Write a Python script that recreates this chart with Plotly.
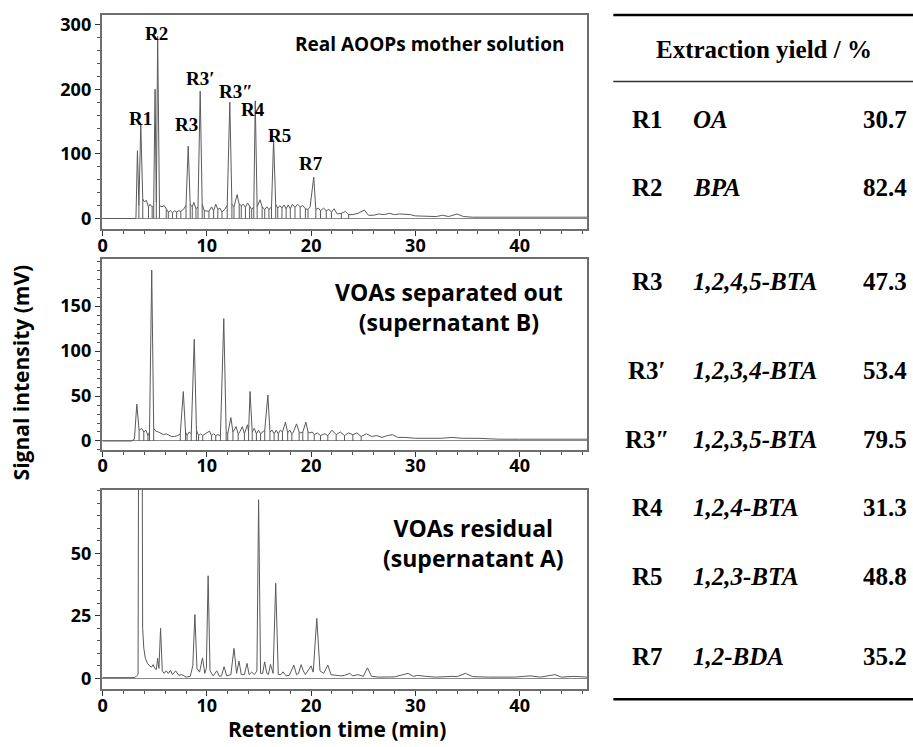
import numpy as np
import plotly.graph_objects as go

W, H = 913, 747

# ---- Chromatogram traces: (retention time in min, signal in mV) vertices ----
t_mother = [0, 3.15, 3.2, 3.34, 3.48, 3.66, 3.85, 4.0, 4.2, 4.4, 4.55, 4.75, 4.9, 5.03, 5.15, 5.28,
            5.45, 5.7, 5.9, 6.1, 6.3, 6.5, 6.7, 6.9, 7.1, 7.3, 7.5, 7.75, 8.0, 8.21, 8.4, 8.6, 8.75,
            8.95, 9.15, 9.36, 9.55, 9.75, 9.95, 10.2, 10.45, 10.65, 10.85, 11.05, 11.25, 11.45, 11.7,
            11.95, 12.2, 12.4, 12.6, 12.9, 13.1, 13.3, 13.5, 13.7, 13.9, 14.1, 14.3, 14.5, 14.64,
            14.82, 15.1, 15.3, 15.55, 15.75, 15.95, 16.2, 16.4, 16.6, 16.8, 17.0, 17.2, 17.4, 17.6,
            17.8, 18.0, 18.2, 18.45, 18.7, 18.95, 19.2, 19.45, 19.7, 19.9, 20.25, 20.45, 20.7, 20.9,
            21.2, 21.45, 21.7, 21.95, 22.2, 22.5, 22.9, 23.3, 23.6, 24.0, 24.5, 25.1, 25.5, 26.0,
            26.5, 27.0, 27.5, 28.0, 28.5, 29.0, 29.5, 30.0, 31.0, 32.0, 32.6, 33.2, 34.0, 34.6,
            35.5, 37.0, 39.0, 40.3, 41.0, 42.5, 44.1, 44.8, 46.5]
s_mother = [0, 0, 2, 105, 20, 145, 30, 26, 28, 18, 22, 18, 20, 200, 25, 282,
            20, 18, 20, 14, 10, 12, 9, 12, 10, 12, 11, 14, 20, 112, 22, 18, 25,
            15, 18, 197, 22, 12, 12, 11, 18, 12, 22, 14, 16, 10, 14,
            20, 180, 22, 18, 37, 22, 20, 22, 17, 24, 18, 14, 18, 182,
            18, 29, 18, 14, 18, 14, 18, 122, 22, 16, 20, 16, 21, 15,
            21, 15, 22, 17, 22, 18, 20, 15, 14, 18, 64, 14, 16, 12,
            16, 12, 14, 10, 15, 7, 8, 11, 6, 6, 8, 13, 5, 5,
            7, 6, 8, 6, 7, 7, 6, 4, 3, 3, 5, 3, 7, 3,
            2, 2, 2, 3, 2, 2, 3, 2, 2]
drops_mother = [3.48, 3.85, 4.4, 4.75, 4.9, 5.15, 5.45, 6.1, 6.3, 6.7, 7.1, 7.5, 8.0, 8.4, 8.6,
                8.95, 9.15, 9.55, 9.75, 10.2, 10.65, 11.05, 11.45, 11.95, 12.4, 12.6, 13.1, 13.3,
                13.7, 14.1, 14.3, 14.5, 14.82, 15.3, 15.55, 15.95, 16.2, 16.6, 16.8, 17.2, 17.6,
                18.0, 18.45, 18.95, 19.45, 19.7, 20.45, 20.9, 21.45, 21.95, 22.9, 23.6]

t_sepB = [0, 2.8, 2.9, 3.05, 3.28, 3.5, 3.75, 3.95, 4.15, 4.35, 4.5, 4.71, 4.9, 5.1, 5.35, 5.6,
          5.85, 6.1, 6.35, 6.6, 6.9, 7.2, 7.45, 7.74, 7.95, 8.1, 8.3, 8.5, 8.79, 9.0, 9.2, 9.4,
          9.6, 9.85, 10.05, 10.25, 10.45, 10.65, 10.85, 11.05, 11.3, 11.62, 11.85, 12.0, 12.3,
          12.5, 12.8, 13.0, 13.15, 13.4, 13.6, 13.9, 14.0, 14.14, 14.35, 14.55, 14.75, 14.95,
          15.15, 15.35, 15.55, 15.85, 16.05, 16.25, 16.45, 16.65, 16.85, 17.05, 17.25, 17.54,
          17.75, 17.95, 18.15, 18.3, 18.6, 18.85, 19.0, 19.2, 19.5, 19.7, 19.9, 20.1, 20.3,
          20.6, 20.9, 21.3, 21.6, 22.0, 22.4, 22.8, 23.2, 23.6, 24.0, 24.4, 24.8, 25.3, 25.8,
          26.3, 26.8, 27.3, 27.8, 28.3, 29.0, 30.0, 31.0, 32.5, 33.5, 34.5, 36.0, 38.0, 40.0,
          42.0, 44.0, 46.5]
s_sepB = [0, 0, 1, 2, 41, 12, 14, 10, 12, 6, 10, 190, 14, 11, 10, 8,
          7, 8, 6, 5, 5, 6, 8, 55, 10, 6, 10, 8, 113, 12, 6, 8,
          6, 8, 10, 11, 6, 8, 6, 7, 6, 136, 10, 8, 26,
          10, 16, 8, 10, 16, 8, 18, 10, 55, 10, 14, 8, 12,
          8, 10, 12, 51, 10, 12, 8, 12, 8, 12, 10, 21,
          9, 12, 8, 10, 19, 10, 9, 10, 21, 10, 9, 10, 7,
          9, 6, 8, 6, 12, 7, 10, 6, 9, 7, 9, 5, 8, 5,
          6, 4, 6, 7, 4, 4, 3, 3, 3, 4, 3, 3, 2, 2,
          2, 2, 2]
drops_sepB = [2.9, 3.5, 3.95, 4.35, 4.5, 4.9, 7.45, 7.95, 8.1, 8.5, 9.0, 9.2, 9.6, 10.45, 10.85,
              11.3, 11.85, 12.0, 12.5, 13.0, 13.6, 14.0, 14.35, 14.75, 15.15, 15.55, 16.05,
              16.45, 16.85, 17.25, 17.75, 18.15, 18.85, 19.2, 19.7, 20.3, 20.9, 21.6, 22.4,
              23.2, 24.0, 24.8]

t_resA = [0, 3.1, 3.25, 3.4, 3.62, 3.84, 3.95, 4.1, 4.3, 4.5, 4.7, 4.85, 5.0, 5.15, 5.28, 5.4,
          5.56, 5.72, 5.9, 6.1, 6.3, 6.5, 6.7, 7.0, 7.3, 7.6, 8.0, 8.4, 8.65, 8.85, 9.05, 9.3,
          9.58, 9.8, 9.95, 10.12, 10.3, 10.6, 10.95, 11.2, 11.4, 11.65, 11.9, 12.3, 12.6, 12.85,
          13.08, 13.3, 13.6, 13.85, 14.05, 14.3, 14.55, 14.8, 14.96, 15.15, 15.35, 15.54, 15.75,
          15.9, 16.1, 16.35, 16.6, 16.85, 17.1, 17.3, 17.6, 17.9, 18.34, 18.6, 18.8, 19.04,
          19.25, 19.45, 19.99, 20.2, 20.54, 20.85, 21.2, 21.6, 21.9, 22.3, 22.8, 23.2, 23.7,
          24.0, 24.5, 25.0, 25.4, 25.8, 26.5, 28.0, 29.3, 29.8, 30.2, 31.0, 32.0, 33.5, 34.0,
          34.8, 35.5, 37.0, 38.5, 39.5, 41.0, 42.0, 43.4, 44.0, 45.2, 46.5]
s_resA = [0.3, 0.3, 1, 1.5, 400, 20, 12, 8, 6, 5, 4.5, 5.5, 4, 3.5, 8, 4,
          20, 3, 2, 3, 2, 3.2, 1.5, 3, 1.2, 1.5, 0.5, 0.8, 5, 25.5, 4, 2.5,
          8.2, 2, 4, 41, 3, 1, 3, 0.8, 1, 4.7, 1, 1.5, 12, 2,
          6.9, 1.5, 1.5, 6, 1.5, 2.5, 1.5, 3, 71.4, 2, 2, 6.6, 2,
          1.5, 5.6, 2, 38, 1.5, 1.5, 2.6, 1, 1.2, 5.3, 1.5, 2, 5.5,
          3, 1.5, 5, 2.5, 24, 3, 2, 5.3, 1.5, 1.2, 1, 1.2, 2,
          1, 1.5, 0.8, 4.2, 0.8, 0.5, 0.6, 2, 0.8, 1.2, 0.8, 0.5, 0.8, 0.7,
          2, 0.7, 0.5, 0.6, 0.5, 1, 0.5, 1.5, 0.5, 0.8, 0.5]

# ---- Peak labels on the mother-solution chromatogram ----
peak_names = ["R1", "R2", "R3", "R3′", "R3″", "R4", "R5", "R7"]
peak_label_t = [3.59, 5.19, 8.05, 9.39, 12.83, 14.42, 16.97, 19.99]
peak_label_y = [154, 286, 146, 216, 196, 168, 128, 85]

# ---- Extraction yield table ----
codes = ["R1", "R2", "R3", "R3′", "R3″", "R4", "R5", "R7"]
compounds = ["OA", "BPA", "1,2,4,5-BTA", "1,2,3,4-BTA", "1,2,3,5-BTA", "1,2,4-BTA", "1,2,3-BTA", "1,2-BDA"]
yields = [30.7, 82.4, 47.3, 53.4, 79.5, 31.3, 48.8, 35.2]
row_y_px = [117, 186, 280, 370, 439, 508, 577, 658]

x_ticks = [0, 10, 20, 30, 40]

TRACE = "#5a5a5a"
AXIS = "#6e6e6e"
SANS = "Open Sans"
SERIF = "Liberation Serif"


def px(x):
    return x / W


def py(y):
    return 1 - y / H


fig = go.Figure()

panels = [
    (t_mother, s_mother, drops_mother, "x", "y"),
    (t_sepB, s_sepB, drops_sepB, "x2", "y2"),
    (t_resA, s_resA, [], "x3", "y3"),
]
for T, S, D, xa, ya in panels:
    if D:
        dx, dy = [], []
        for t in D:
            v = float(np.interp(t, T, S))
            dx += [t, t, None]
            dy += [0, v, None]
        fig.add_trace(go.Scatter(x=dx, y=dy, mode="lines", xaxis=xa, yaxis=ya,
                                 line=dict(color=TRACE, width=1), hoverinfo="skip",
                                 showlegend=False))
    fig.add_trace(go.Scatter(x=T, y=S, mode="lines", xaxis=xa, yaxis=ya,
                             line=dict(color=TRACE, width=1), showlegend=False))

tickfont = dict(family=SANS, size=18, color="black", weight="bold")

x_dom = [98 / W, 586 / W]
y_doms = [(12, 228), (258, 450), (490, 691)]
y_ranges = [[-17, 315], [-10, 202], [-4.4, 75.4]]
y_ticks = [[0, 100, 200, 300], [0, 50, 100, 150], [0, 25, 50]]
y_minor = [20, 10, 5]

layout = dict(
    width=W, height=H,
    margin=dict(l=0, r=0, t=0, b=0),
    paper_bgcolor="white", plot_bgcolor="white",
    showlegend=False,
)
for i in range(3):
    sx = "" if i == 0 else str(i + 1)
    top, bot = y_doms[i]
    layout["xaxis" + sx] = dict(
        domain=x_dom, range=[-0.1, 46.5], anchor="y" + sx,
        tickvals=x_ticks, ticks="outside", ticklen=5, tickwidth=1.2, tickcolor="#333",
        minor=dict(dtick=2, ticks="outside", ticklen=3, tickcolor="#555"),
        showline=True, linecolor=AXIS, linewidth=1.5, mirror=True,
        showgrid=False, zeroline=False, tickfont=tickfont, ticklabelstandoff=-6,
    )
    layout["yaxis" + sx] = dict(
        domain=[py(bot), py(top)], range=y_ranges[i], anchor="x" + sx,
        tickvals=y_ticks[i], ticks="outside", ticklen=5, tickwidth=1.2, tickcolor="#333",
        minor=dict(dtick=y_minor[i], ticks="outside", ticklen=3, tickcolor="#555"),
        showline=True, linecolor=AXIS, linewidth=1.5, mirror=True,
        showgrid=False, zeroline=True, zerolinecolor="#8a8a8a", zerolinewidth=1,
        tickfont=tickfont,
    )
fig.update_layout(**layout)


def note(x, y, text, font, xanchor="center", **kw):
    return dict(x=px(x), y=py(y), xref="paper", yref="paper", text=text, showarrow=False,
                xanchor=xanchor, yanchor="middle", font=font, **kw)


ann = []
# peak labels
for name, t, yv in zip(peak_names, peak_label_t, peak_label_y):
    ann.append(dict(x=t, y=yv, xref="x", yref="y", text=name, showarrow=False,
                    xanchor="center", yanchor="middle",
                    font=dict(family=SERIF, size=19, color="black", weight="bold")))

# panel captions
ann.append(note(427, 41, "Real AOOPs mother solution",
                dict(family=SANS, size=19, color="black", weight="bold")))
ann.append(note(447, 306, "VOAs separated out<br>(supernatant B)",
                dict(family=SANS, size=23, color="black", weight="bold")))
ann.append(note(472, 544, "VOAs residual<br>(supernatant A)",
                dict(family=SANS, size=23, color="black", weight="bold")))

# axis titles
ann.append(note(17, 372, "Signal intensity (mV)",
                dict(family=SANS, size=21, color="black", weight="bold"), textangle=-90))
ann.append(note(334, 731, "Retention time (min)",
                dict(family=SANS, size=21, color="black", weight="bold")))

# table
tab_font = dict(family=SERIF, size=25, color="black", weight="bold")
tab_ital = dict(family=SERIF, size=25, color="black", weight="bold", style="italic")
ann.append(note(763, 47, "Extraction yield / %", tab_font))
for c, n, v, yy in zip(codes, compounds, yields, row_y_px):
    ann.append(note(646, yy, c, tab_font))
    ann.append(note(690, yy, n, tab_ital, xanchor="left"))
    ann.append(note(909, yy, f"{v:.1f}", tab_font, xanchor="right"))
fig.update_layout(annotations=ann)

shapes = [
    dict(type="line", xref="paper", yref="paper", x0=px(612), x1=px(913), y0=py(12), y1=py(12),
         line=dict(color="black", width=2.5)),
    dict(type="line", xref="paper", yref="paper", x0=px(612), x1=px(913), y0=py(79), y1=py(79),
         line=dict(color="#333", width=1.5)),
    dict(type="line", xref="paper", yref="paper", x0=px(612), x1=px(913), y0=py(701), y1=py(701),
         line=dict(color="black", width=2.5)),
]
fig.update_layout(shapes=shapes)

fig.write_html("out.html")
